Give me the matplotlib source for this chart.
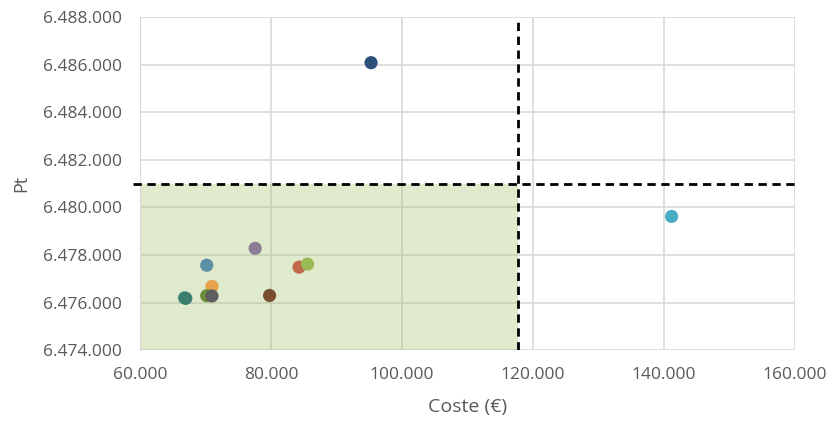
import matplotlib.pyplot as plt
from matplotlib.ticker import FuncFormatter
from matplotlib.patches import Rectangle

plt.rcParams['font.family'] = ['Open Sans', 'DejaVu Sans']

# data (coste in €, Pt)
coste = [95300, 141200, 77600, 70200, 84300, 85600, 71000, 66800, 67000, 70200, 71000, 79800]
pt = [6486080, 6479620, 6478280, 6477570, 6477490, 6477620, 6476680, 6476200, 6476180, 6476290, 6476280, 6476300]
colors = ['#2C4F7C', '#4BACC6', '#8A7D94', '#5B8FA6', '#C0694A', '#9BBB59',
          '#E8A24C', '#4A9A8C', '#3D7D6E', '#6B8E3A', '#5E5E5E', '#7A4E30']

x_limit = 117700
y_limit = 6481000

fig = plt.figure(figsize=(8.33, 4.25), dpi=100)
ax = fig.add_axes([0.168, 0.176, 0.786, 0.784])

ax.set_xlim(60000, 160000)
ax.set_ylim(6474000, 6488000)
ax.set_xticks(range(60000, 160001, 20000))
ax.set_yticks(range(6474000, 6488001, 2000))
ax.grid(True, color='#d9d9d9', linewidth=1.2)
ax.set_axisbelow(True)

ax.add_patch(Rectangle((60000, 6474000), x_limit - 60000, y_limit - 6474000,
                       facecolor='#9BBB59', alpha=0.3, edgecolor='none', zorder=1))

ax.scatter(coste, pt, s=90, c=colors, zorder=3, linewidths=0)

ax.axvline(x_limit, color='black', linestyle='--', linewidth=2, dashes=(3, 2), zorder=4)
ax.plot([58900, 160000], [y_limit, y_limit], color='black', linestyle='--',
        linewidth=2, dashes=(3, 2), zorder=4, clip_on=False)

fmt = FuncFormatter(lambda v, p: f'{int(v):,}'.replace(',', '.'))
ax.xaxis.set_major_formatter(fmt)
ax.yaxis.set_major_formatter(fmt)

for s in ax.spines.values():
    s.set_visible(False)
ax.spines['left'].set_visible(True)
ax.spines['left'].set_color('#d9d9d9')
ax.tick_params(length=0, labelsize=12.5, colors='#595959')
ax.tick_params(axis='x', pad=12)
ax.tick_params(axis='y', pad=13)

ax.set_xlabel('Coste (€)', fontsize=14, color='#595959', labelpad=11)
ax.set_ylabel('Pt', fontsize=13, color='#595959', labelpad=9)

fig.savefig('out.png', dpi=100)
